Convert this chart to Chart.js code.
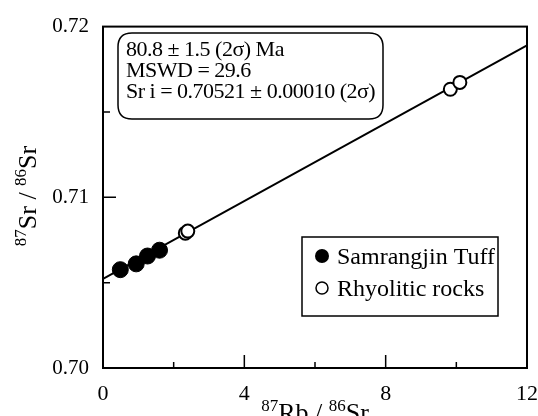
<!DOCTYPE html>
<html>
<head>
<meta charset="utf-8">
<script src="https://cdn.jsdelivr.net/npm/chart.js@4.4.0/dist/chart.umd.min.js"></script>
<style>
  html, body { margin: 0; padding: 0; background: #fff; }
  #wrap { width: 538px; height: 416px; }
</style>
</head>
<body>
<div id="wrap"><canvas id="myChart" width="538" height="416"></canvas></div>
<script>
// Samrangjin Tuff (filled)
const tuffX = [0.49, 0.94, 1.26, 1.60];
const tuffY = [0.70576, 0.70610, 0.70656, 0.70690];
// Rhyolitic rocks (open)
const rhyoX = [2.33, 2.40, 9.83, 10.10];
const rhyoY = [0.70790, 0.70802, 0.71633, 0.71673];
// isochron end points
const lineX = [0, 12];
const lineY = [0.70522, 0.71890];

const xTicks = [0, 4, 8, 12];
const yTicks = [0.70, 0.71, 0.72];
const xMinor = [2, 6, 10];
const yMinor = [0.705, 0.715];

const noteLines = ['80.8 \u00b1 1.5 (2\u03c3) Ma', 'MSWD = 29.6', 'Sr i = 0.70521 \u00b1 0.00010 (2\u03c3)'];
const legendLabels = ['Samrangjin Tuff', 'Rhyolitic rocks'];

const serif = '"Liberation Serif", "Times New Roman", serif';

function toPts(xs, ys) {
  let pts = [];
  for (let i = 0; i < xs.length; i++) pts.push({x: xs[i], y: ys[i]});
  return pts;
}

// draws text like "87Rb / 86Sr" with superscript numbers
function supText(ctx, parts, x, y, big, small) {
  let w = 0;
  for (const p of parts) {
    ctx.font = (p[1] ? small : big) + 'px ' + serif;
    w += ctx.measureText(p[0]).width;
  }
  let cx = x - w / 2;
  ctx.textAlign = 'left';
  ctx.textBaseline = 'alphabetic';
  for (const p of parts) {
    ctx.font = (p[1] ? small : big) + 'px ' + serif;
    ctx.fillText(p[0], cx, p[1] ? y - big * 0.38 : y);
    cx += ctx.measureText(p[0]).width;
  }
}

function roundRect(ctx, x, y, w, h, r) {
  ctx.beginPath();
  ctx.moveTo(x + r, y);
  ctx.lineTo(x + w - r, y);
  ctx.quadraticCurveTo(x + w, y, x + w, y + r);
  ctx.lineTo(x + w, y + h - r);
  ctx.quadraticCurveTo(x + w, y + h, x + w - r, y + h);
  ctx.lineTo(x + r, y + h);
  ctx.quadraticCurveTo(x, y + h, x, y + h - r);
  ctx.lineTo(x, y + r);
  ctx.quadraticCurveTo(x, y, x + r, y);
  ctx.closePath();
}

const extras = {
  id: 'extras',
  afterDraw(chart) {
    const ctx = chart.ctx;
    const a = chart.chartArea;
    const xs = chart.scales.x, ys = chart.scales.y;
    ctx.save();
    ctx.strokeStyle = '#000';
    ctx.fillStyle = '#000';
    // frame
    ctx.lineWidth = 2;
    ctx.strokeRect(a.left, a.top, a.right - a.left, a.bottom - a.top);
    // inward ticks
    ctx.lineWidth = 1.5;
    ctx.beginPath();
    for (const v of xTicks.slice(1, -1)) {
      const px = xs.getPixelForValue(v);
      ctx.moveTo(px, a.bottom); ctx.lineTo(px, a.bottom - 13);
    }
    for (const v of xMinor) {
      const px = xs.getPixelForValue(v);
      ctx.moveTo(px, a.bottom); ctx.lineTo(px, a.bottom - 6);
    }
    for (const v of yTicks.slice(1, -1)) {
      const py = ys.getPixelForValue(v);
      ctx.moveTo(a.left, py); ctx.lineTo(a.left + 13, py);
    }
    for (const v of yMinor) {
      const py = ys.getPixelForValue(v);
      ctx.moveTo(a.left, py); ctx.lineTo(a.left + 7, py);
    }
    ctx.stroke();

    // note box
    ctx.lineWidth = 1.5;
    roundRect(ctx, 118, 33, 265, 86, 14);
    ctx.stroke();
    ctx.font = '22px ' + serif;
    ctx.textAlign = 'left';
    ctx.textBaseline = 'alphabetic';
    ctx.letterSpacing = '-0.5px';
    for (let i = 0; i < noteLines.length; i++) {
      ctx.fillText(noteLines[i], 126, 56 + i * 21);
    }
    ctx.letterSpacing = '0px';

    // legend box
    ctx.lineWidth = 1.5;
    ctx.strokeRect(302, 237, 196, 79);
    ctx.beginPath();
    ctx.arc(322, 256, 7, 0, Math.PI * 2);
    ctx.fill();
    ctx.beginPath();
    ctx.arc(322, 288, 6, 0, Math.PI * 2);
    ctx.stroke();
    ctx.font = '24px ' + serif;
    ctx.fillText(legendLabels[0], 337, 264);
    ctx.fillText(legendLabels[1], 337, 296);

    // axis titles
    supText(ctx, [['87', true], ['Rb / ', false], ['86', true], ['Sr', false]], (a.left + a.right) / 2, 421, 26, 17);
    ctx.translate(36, 196);
    ctx.rotate(-Math.PI / 2);
    supText(ctx, [['87', true], ['Sr / ', false], ['86', true], ['Sr', false]], 0, 0, 26, 17);
    ctx.restore();
  }
};

new Chart(document.getElementById('myChart'), {
  type: 'scatter',
  data: {
    datasets: [
      {
        label: legendLabels[0],
        data: toPts(tuffX, tuffY),
        pointRadius: 8,
        pointBackgroundColor: '#000',
        pointBorderColor: '#000',
        pointBorderWidth: 1
      },
      {
        label: legendLabels[1],
        data: toPts(rhyoX, rhyoY),
        pointRadius: 6.5,
        pointBackgroundColor: '#fff',
        pointBorderColor: '#000',
        pointBorderWidth: 2
      },
      {
        label: 'isochron',
        data: toPts(lineX, lineY),
        showLine: true,
        pointRadius: 0,
        borderColor: '#000',
        borderWidth: 2
      }
    ]
  },
  options: {
    responsive: false,
    animation: false,
    devicePixelRatio: 1,
    layout: { padding: { top: 26, right: 0, left: 0, bottom: 0 } },
    plugins: { legend: { display: false }, tooltip: { enabled: false } },
    scales: {
      x: {
        type: 'linear',
        min: 0, max: 12,
        afterFit: (s) => { s.height = 48; s.paddingRight = 11; },
        afterBuildTicks: (s) => { s.ticks = xTicks.map(v => ({value: v})); },
        grid: { display: false, drawTicks: false },
        border: { display: false },
        ticks: {
          padding: 13,
          color: '#000',
          font: { family: serif, size: 22 },
          callback: (v) => String(v)
        }
      },
      y: {
        type: 'linear',
        min: 0.70, max: 0.72,
        afterFit: (s) => { s.width = 103; },
        afterBuildTicks: (s) => { s.ticks = yTicks.map(v => ({value: v})); },
        grid: { display: false, drawTicks: false },
        border: { display: false },
        ticks: {
          padding: 14,
          color: '#000',
          font: { family: serif, size: 21 },
          callback: (v) => Number(v).toFixed(2)
        }
      }
    }
  },
  plugins: [extras]
});
</script>
</body>
</html>
